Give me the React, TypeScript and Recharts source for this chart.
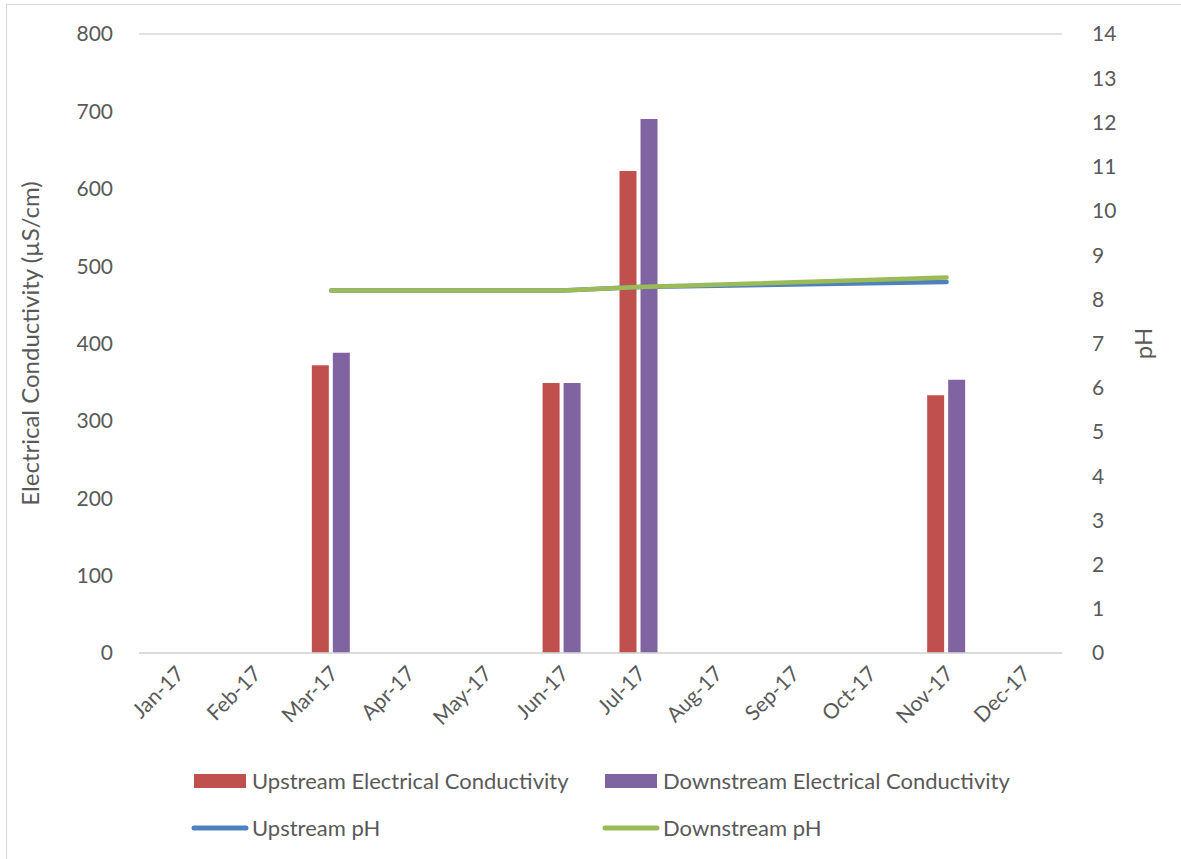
import { ComposedChart, Bar, Line, XAxis, YAxis, CartesianGrid, Legend, Label } from "recharts";

const months = ["Jan-17", "Feb-17", "Mar-17", "Apr-17", "May-17", "Jun-17", "Jul-17", "Aug-17", "Sep-17", "Oct-17", "Nov-17", "Dec-17"];
const upstreamEC = [null, null, 372, null, null, 349, 623, null, null, null, 333, null];
const downstreamEC = [null, null, 388, null, null, 349, 690, null, null, null, 353, null];
const upstreamPH = [null, null, 8.2, null, null, 8.2, 8.28, null, null, null, 8.39, null];
const downstreamPH = [null, null, 8.2, null, null, 8.2, 8.28, null, null, null, 8.49, null];

const ecTicks = [0, 100, 200, 300, 400, 500, 600, 700, 800];
const phTicks = [0, 1, 2, 3, 4, 5, 6, 7, 8, 9, 10, 11, 12, 13, 14];

const legendOrder = ["Upstream Electrical Conductivity", "Downstream Electrical Conductivity", "Upstream pH", "Downstream pH"];

const data = months.map((m, i) => ({
  month: m,
  upEC: upstreamEC[i],
  downEC: downstreamEC[i],
  upPH: upstreamPH[i],
  downPH: downstreamPH[i],
}));

const FONT = "Lato, 'Open Sans', sans-serif";
const TEXT = "#595959";

const MonthTick = (props: any) => {
  const { x, y, payload } = props;
  const tx = x + 8;
  const ty = y + 14;
  return (
    <text x={tx} y={ty} textAnchor="end" fill={TEXT} fontSize={21} fontFamily={FONT} transform={`rotate(-45, ${tx}, ${ty})`}>
      {payload.value}
    </text>
  );
};

// positions of the four legend entries (swatch left, row centre)
const legendPos = [
  { x: 194, y: 781 },
  { x: 605, y: 781 },
  { x: 194, y: 828 },
  { x: 605, y: 828 },
];

const LegendBox = (props: any) => {
  const items = [...(props.payload || [])].sort(
    (a: any, b: any) => legendOrder.indexOf(a.value) - legendOrder.indexOf(b.value)
  );
  return (
    <svg width={1181} height={120} style={{ position: "absolute", left: 0, top: 0, overflow: "visible" }}>
      {items.map((it: any, i: number) => {
        const p = legendPos[i] || legendPos[0];
        const isLine = it.type === "line";
        return (
          <g key={it.value} transform={`translate(${p.x}, ${p.y - 740})`}>
            {isLine ? (
              <line x1={0} y1={0} x2={52} y2={0} stroke={it.color} strokeWidth={5} strokeLinecap="round" />
            ) : (
              <rect x={0} y={-7} width={52} height={14} fill={it.color} />
            )}
            <text x={58} y={8} fill={TEXT} fontSize={22} fontFamily={FONT}>
              {it.value}
            </text>
          </g>
        );
      })}
    </svg>
  );
};

export default function App() {
  return (
    <div style={{ position: "absolute", left: 0, top: 0, width: 1181, height: 859, background: "#fff" }}>
      <div style={{ position: "absolute", left: 6, top: 4, width: 1200, height: 900, border: "1.5px solid #d9d9d9" }} />
      <ComposedChart
        width={1181}
        height={859}
        data={data}
        margin={{ top: 34, right: 0, bottom: 146, left: 0 }}
        barCategoryGap="25%"
        barGap={4}
        style={{ position: "absolute", left: 0, top: 0 }}
      >
        <CartesianGrid vertical={false} stroke="#d9d9d9" strokeWidth={1.5} />
        <XAxis
          dataKey="month"
          height={60}
          interval={0}
          tickLine={false}
          axisLine={{ stroke: "#d9d9d9", strokeWidth: 1.5 }}
          tick={<MonthTick />}
        />
        <YAxis
          yAxisId="ec"
          width={139}
          domain={[0, 800]}
          ticks={ecTicks}
          tickLine={false}
          axisLine={false}
          tickMargin={20}
          tick={{ fill: TEXT, fontSize: 21, fontFamily: FONT }}
        >
          <Label
            value="Electrical Conductivity  (µS/cm)"
            angle={-90}
            position="insideLeft"
            offset={30}
            style={{ fill: TEXT, fontSize: 24, fontFamily: FONT, textAnchor: "middle" }}
          />
        </YAxis>
        <YAxis
          yAxisId="ph"
          orientation="right"
          width={119}
          domain={[0, 14]}
          ticks={phTicks}
          tickLine={false}
          axisLine={false}
          tickMargin={24}
          tick={{ fill: TEXT, fontSize: 21, fontFamily: FONT, textAnchor: "start" }}
        >
          <Label
            value="pH"
            angle={-90}
            position="insideRight"
            offset={38}
            style={{ fill: TEXT, fontSize: 24, fontFamily: FONT, textAnchor: "middle" }}
          />
        </YAxis>
        <Bar yAxisId="ec" dataKey="upEC" name="Upstream Electrical Conductivity" fill="#c0504d" barSize={17} isAnimationActive={false} />
        <Bar yAxisId="ec" dataKey="downEC" name="Downstream Electrical Conductivity" fill="#8064a2" barSize={17} isAnimationActive={false} />
        <Line yAxisId="ph" dataKey="upPH" name="Upstream pH" type="linear" stroke="#4f81bd" strokeWidth={4.5} strokeLinecap="round" dot={false} connectNulls isAnimationActive={false} />
        <Line yAxisId="ph" dataKey="downPH" name="Downstream pH" type="linear" stroke="#9bbb59" strokeWidth={4.5} strokeLinecap="round" dot={false} connectNulls isAnimationActive={false} />
        <Legend
          layout="horizontal"
          verticalAlign="middle"
          align="center"
          content={<LegendBox />}
          wrapperStyle={{ top: 740, left: 0, width: 1181, height: 120 }}
        />
      </ComposedChart>
    </div>
  );
}
